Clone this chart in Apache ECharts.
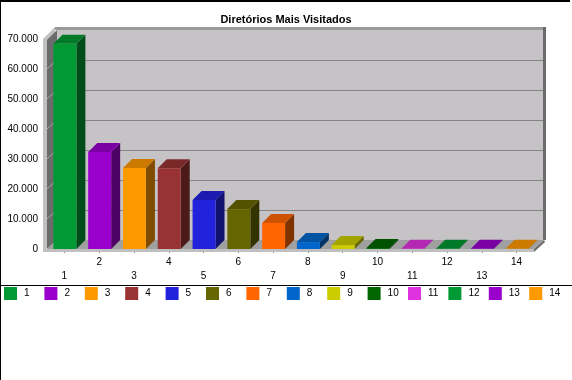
<!DOCTYPE html>
<html>
<head>
<meta charset="utf-8">
<script src="https://cdn.jsdelivr.net/npm/echarts@6/dist/echarts.min.js"></script>
<style>
html,body{margin:0;padding:0;background:#fff;}
#chart{width:572px;height:380px;}
</style>
</head>
<body>
<div id="chart"></div>
<script>
const title = 'Diretórios Mais Visitados';
const categories = ['1','2','3','4','5','6','7','8','9','10','11','12','13','14'];
const values = [68400, 32300, 27000, 26900, 16300, 13300, 8700, 2300, 1300, 300, 100, 80, 60, 50];
const colors = ['#009933','#9900CC','#FF9900','#993333','#2222DD','#666600','#FF6600','#0066CC','#CCCC00','#006600','#E033E0','#009933','#9900CC','#FF9900'];
const yTicks = [0, 10000, 20000, 30000, 40000, 50000, 60000, 70000];

const DX = 10, DY = -9;     // wall depth
const BDX = 9, BDY = -9;    // bar depth

function shade(hex, f) {
  const n = parseInt(hex.slice(1), 16);
  const r = Math.round(((n >> 16) & 255) * f), g = Math.round(((n >> 8) & 255) * f), b = Math.round((n & 255) * f);
  return 'rgb(' + r + ',' + g + ',' + b + ')';
}
function fmt(v) { return String(v).replace(/\B(?=(\d{3})+(?!\d))/g, '.'); }

function renderWalls(params, api) {
  const cs = params.coordSys;
  const L = cs.x, T = cs.y, R = cs.x + cs.width, B = cs.y + cs.height;
  const ch = [];
  ch.push({type:'rect', shape:{x:L+DX, y:T+DY, width:R-L, height:B-T}, style:{fill:'#C6C3C6'}});
  ch.push({type:'rect', shape:{x:L+DX-2, y:T+DY-3, width:R-L+4, height:3}, style:{fill:'#9A9A9A'}});
  ch.push({type:'rect', shape:{x:R+DX-1, y:T+DY-3, width:3, height:B-T+3}, style:{fill:'#6B6B6B'}});
  ch.push({type:'polygon', shape:{points:[[L-4,T],[L-4+DX+2,T+DY-3],[L-4+DX+2,B+DY],[L-4,B+3]]}, style:{fill:'#C0C0C0'}});
  ch.push({type:'polygon', shape:{points:[[L,T+1],[L+DX,T+DY],[L+DX,B+DY],[L,B]]}, style:{fill:'#6B6B6B'}});
  for (let k = 1; k < yTicks.length - 1; k++) {
    const y = Math.round(api.coord([0, yTicks[k]])[1]);
    ch.push({type:'line', shape:{x1:L+DX, y1:y+DY+0.5, x2:R+DX-1, y2:y+DY+0.5}, style:{stroke:'#858585', lineWidth:1}});
    ch.push({type:'line', shape:{x1:L, y1:y, x2:L+DX, y2:y+DY}, style:{stroke:'#A8A8A8', lineWidth:1}});
  }
  ch.push({type:'polygon', shape:{points:[[L,B],[R,B],[R+DX,B+DY],[L+DX,B+DY]]}, style:{fill:'#A0A0A0'}});
  ch.push({type:'rect', shape:{x:L-4, y:B, width:R-L+4, height:3}, style:{fill:'#C0C0C0'}});
  ch.push({type:'polygon', shape:{points:[[R,B],[R+DX,B+DY],[R+DX+1,B+DY+2],[R,B+3]]}, style:{fill:'#6B6B6B'}});
  return {type:'group', children: ch, silent:true};
}

function makeBarRenderer(color) {
  return function (params, api) {
    const idx = api.value(0);
    const v = api.value(1);
    const top = api.coord([idx, v]);
    const base = api.coord([idx, 0]);
    const w = api.size([1, 0])[0] * 0.66;
    const x0 = top[0] - w / 2 + 0.5, x1 = x0 + w;
    const yT = top[1], yB = base[1];
    return {type:'group', children:[
      {type:'polygon', shape:{points:[[x1,yT],[x1+BDX,yT+BDY],[x1+BDX,yB+BDY],[x1,yB]]}, style:{fill:shade(color,0.5)}},
      {type:'polygon', shape:{points:[[x0,yT],[x1,yT],[x1+BDX,yT+BDY],[x0+BDX,yT+BDY]]}, style:{fill:shade(color,0.8)}},
      {type:'rect', shape:{x:x0, y:yT, width:w, height:yB-yT}, style:{fill:color}}
    ]};
  };
}

const series = [{
  type:'custom', name:'__walls', renderItem: renderWalls, data:[[0,0]], silent:true, z:1,
  encode:{x:0, y:1}
}];
categories.forEach((c, i) => {
  series.push({
    type:'custom', name:c, z:2,
    itemStyle:{color:colors[i]},
    renderItem: makeBarRenderer(colors[i]),
    encode:{x:0, y:1},
    data:[[i, values[i]]]
  });
});

const legends = categories.map((c, i) => ({
  data:[c], left: 4 + i * 40.4, top:287, orient:'horizontal', icon:'rect',
  itemWidth:13, itemHeight:13, padding:0, selectedMode:false,
  textStyle:{fontSize:10, color:'#000', fontFamily:'Liberation Sans', padding:[0,0,0,2]}
}));

const chart = echarts.init(document.getElementById('chart'), null, {renderer:'canvas'});
chart.setOption({
  animation:false,
  backgroundColor:'#ffffff',
  textStyle:{fontFamily:'Liberation Sans'},
  title:{text:title, left:'center', top:8, textStyle:{fontSize:11, fontWeight:'bold', color:'#000', fontFamily:'Liberation Sans', lineHeight:14}},
  grid:{left:47, right:38, top:39, bottom:131},
  xAxis:{
    type:'category', data:categories, boundaryGap:true, offset:3,
    axisLine:{show:false},
    axisTick:{show:true, alignWithLabel:true, length:4, lineStyle:{color:'#888888'}},
    axisLabel:{interval:0, margin:3, fontSize:10, color:'#000', lineHeight:14, fontFamily:'Liberation Sans',
      formatter:(v, i) => (i % 2 === 0 ? '\n' + v : v)},
    splitLine:{show:false}
  },
  yAxis:{
    type:'value', min:yTicks[0], max:yTicks[yTicks.length-1], interval:10000,
    axisLine:{show:false}, axisTick:{show:false}, splitLine:{show:false},
    axisLabel:{margin:9, fontSize:10, color:'#000', fontFamily:'Liberation Sans', formatter:fmt}
  },
  legend: legends,
  graphic:[
    {type:'rect', shape:{x:0, y:0, width:570, height:2}, style:{fill:'#000'}},
    {type:'rect', shape:{x:0, y:0, width:1, height:380}, style:{fill:'#000'}},
    {type:'rect', shape:{x:0, y:285, width:572, height:1}, style:{fill:'#000'}}
  ],
  series: series
});
</script>
</body>
</html>
